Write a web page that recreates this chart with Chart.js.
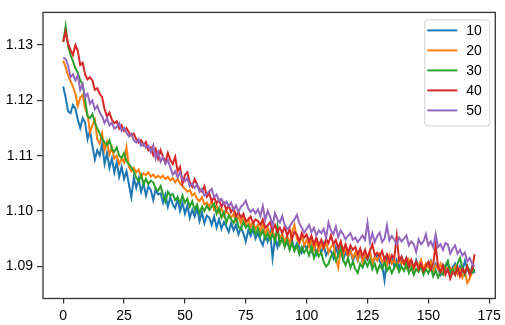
<!DOCTYPE html>
<html>
<head>
<meta charset="utf-8">
<script src="https://cdn.jsdelivr.net/npm/chart.js@4.4.1/dist/chart.umd.min.js"></script>
<style>
    html, body { margin: 0; padding: 0; background: #fff; }
    #wrap { width: 505px; height: 325px; }
</style>
</head>
<body>
<div id="wrap"><canvas id="grafico"></canvas></div>
<script>
// ==========================================
// Curvas 10 / 20 / 30 / 40 / 50
// ==========================================

const rotulos = ["10", "20", "30", "40", "50"];
const cores = ["#1f77b4", "#ff7f0e", "#2ca02c", "#d62728", "#9467bd"];

const xTicks = [0, 25, 50, 75, 100, 125, 150, 175];
const yTicks = [1.09, 1.10, 1.11, 1.12, 1.13];

const serie10 = [
    1.1225, 1.1205, 1.1180, 1.1177, 1.1192, 1.1185, 1.1165, 1.1150, 1.1168, 1.1160,
    1.1130, 1.1145, 1.1118, 1.1093, 1.1110, 1.1100, 1.1122, 1.1085, 1.1105, 1.1078,
    1.1095, 1.1070, 1.1088, 1.1062, 1.1080, 1.1058, 1.1072, 1.1048, 1.1025, 1.1060,
    1.1042, 1.1058, 1.1035, 1.1050, 1.1028, 1.1045, 1.1038, 1.1020, 1.1040, 1.1030,
    1.1032, 1.1015, 1.1030, 1.1008, 1.1025, 1.1012, 1.1005, 1.1022, 1.1000, 1.1015,
    1.0995, 1.1010, 1.0988, 1.1002, 1.0990, 1.1005, 1.0982, 1.0998, 1.0978, 1.0992,
    1.0988, 1.0975, 1.0990, 1.0970, 1.0985, 1.0968, 1.0980, 1.0972, 1.0962, 1.0978,
    1.0965, 1.0975, 1.0958, 1.0970, 1.0960, 1.0945, 1.0965, 1.0955, 1.0968, 1.0950,
    1.0960, 1.0948, 1.0938, 1.0958, 1.0945, 1.0962, 1.0915, 1.0952, 1.0935, 1.0955,
    1.0950, 1.0938, 1.0945, 1.0932, 1.0948, 1.0930, 1.0942, 1.0935, 1.0925, 1.0940,
    1.0932, 1.0945, 1.0928, 1.0938, 1.0922, 1.0935, 1.0925, 1.0940, 1.0920, 1.0930,
    1.0928, 1.0915, 1.0935, 1.0920, 1.0930, 1.0912, 1.0925, 1.0918, 1.0930, 1.0910,
    1.0922, 1.0910, 1.0925, 1.0908, 1.0918, 1.0912, 1.0925, 1.0905, 1.0915, 1.0920,
    1.0910, 1.0902, 1.0875, 1.0915, 1.0905, 1.0918, 1.0900, 1.0912, 1.0898, 1.0910,
    1.0905, 1.0915, 1.0898, 1.0908, 1.0895, 1.0912, 1.0900, 1.0908, 1.0890, 1.0905,
    1.0900, 1.0910, 1.0892, 1.0905, 1.0895, 1.0885, 1.0902, 1.0895, 1.0908, 1.0890,
    1.0898, 1.0905, 1.0888, 1.0900, 1.0892, 1.0910, 1.0895, 1.0885, 1.0900, 1.0888
];

const serie20 = [
    1.1272, 1.1260, 1.1245, 1.1235, 1.1225, 1.1212, 1.1190, 1.1205, 1.1210, 1.1185,
    1.1175, 1.1142, 1.1155, 1.1165, 1.1130, 1.1122, 1.1140, 1.1110, 1.1125, 1.1102,
    1.1115, 1.1095, 1.1100, 1.1085, 1.1095, 1.1088, 1.1115, 1.1080, 1.1072, 1.1078,
    1.1070, 1.1075, 1.1062, 1.1068, 1.1065, 1.1070, 1.1062, 1.1066, 1.1060, 1.1064,
    1.1060, 1.1064, 1.1058, 1.1062, 1.1055, 1.1060, 1.1052, 1.1058, 1.1050, 1.1045,
    1.1040, 1.1035, 1.1038, 1.1028, 1.1032, 1.1022, 1.1018, 1.1025, 1.1012, 1.1015,
    1.1008, 1.1018, 1.1002, 1.1010, 1.0998, 1.1005, 1.0992, 1.1000, 1.0995, 1.0988,
    1.0995, 1.0982, 1.0990, 1.0978, 1.0992, 1.0975, 1.0985, 1.0972, 1.0980, 1.0968,
    1.0975, 1.0962, 1.0978, 1.0958, 1.0970, 1.0955, 1.0965, 1.0948, 1.0960, 1.0952,
    1.0958, 1.0945, 1.0955, 1.0940, 1.0962, 1.0975, 1.0950, 1.0942, 1.0955, 1.0938,
    1.0948, 1.0935, 1.0950, 1.0930, 1.0945, 1.0928, 1.0940, 1.0932, 1.0945, 1.0925,
    1.0935, 1.0940, 1.0915, 1.0898, 1.0930, 1.0920, 1.0935, 1.0918, 1.0928, 1.0915,
    1.0925, 1.0912, 1.0930, 1.0908, 1.0920, 1.0915, 1.0928, 1.0905, 1.0918, 1.0910,
    1.0922, 1.0908, 1.0915, 1.0902, 1.0920, 1.0905, 1.0912, 1.0900, 1.0915, 1.0905,
    1.0910, 1.0898, 1.0912, 1.0902, 1.0895, 1.0908, 1.0900, 1.0912, 1.0895, 1.0905,
    1.0898, 1.0908, 1.0892, 1.0902, 1.0895, 1.0905, 1.0888, 1.0900, 1.0892, 1.0898,
    1.0890, 1.0900, 1.0885, 1.0895, 1.0880, 1.0892, 1.0870, 1.0878, 1.0890, 1.0895
];

const serie30 = [
    1.1306, 1.1334, 1.1298, 1.1282, 1.1271, 1.1258, 1.1250, 1.1236, 1.1229, 1.1201,
    1.1171, 1.1168, 1.1175, 1.1160, 1.1149, 1.1140, 1.1130, 1.1124, 1.1119, 1.1128,
    1.1112, 1.1107, 1.1115, 1.1100, 1.1096, 1.1105, 1.1090, 1.1085, 1.1079, 1.1072,
    1.1060, 1.1054, 1.1065, 1.1048, 1.1058, 1.1049, 1.1055, 1.1052, 1.1040, 1.1037,
    1.1045, 1.1030, 1.1017, 1.1035, 1.1028, 1.1031, 1.1020, 1.1025, 1.1014, 1.1028,
    1.1015, 1.1022, 1.1008, 1.1018, 1.1002, 1.1012, 1.0996, 1.1008, 1.1000, 1.1010,
    1.1002, 1.1008, 1.1014, 1.0995, 1.1005, 1.0988, 1.0998, 1.0979, 1.0992, 1.0985,
    1.0978, 1.0990, 1.0972, 1.0967, 1.0980, 1.0970, 1.0975, 1.0962, 1.0972, 1.0958,
    1.0968, 1.0955, 1.0965, 1.0950, 1.0960, 1.0948, 1.0958, 1.0945, 1.0974, 1.0940,
    1.0950, 1.0935, 1.0948, 1.0930, 1.0942, 1.0928, 1.0938, 1.0922, 1.0935, 1.0925,
    1.0932, 1.0920, 1.0935, 1.0915, 1.0928, 1.0918, 1.0925, 1.0908, 1.0900, 1.0905,
    1.0918, 1.0925, 1.0910, 1.0920, 1.0935, 1.0912, 1.0902, 1.0915, 1.0898, 1.0908,
    1.0895, 1.0888, 1.0905, 1.0898, 1.0910, 1.0900, 1.0912, 1.0895, 1.0905, 1.0890,
    1.0902, 1.0895, 1.0908, 1.0892, 1.0900, 1.0888, 1.0898, 1.0905, 1.0890, 1.0900,
    1.0892, 1.0905, 1.0888, 1.0898, 1.0885, 1.0895, 1.0890, 1.0900, 1.0885, 1.0895,
    1.0888, 1.0898, 1.0882, 1.0893, 1.0880, 1.0890, 1.0885, 1.0902, 1.0910, 1.0888,
    1.0895, 1.0885, 1.0905, 1.0915, 1.0898, 1.0885, 1.0900, 1.0892, 1.0888, 1.0895
];

const serie40 = [
    1.1306, 1.1324, 1.1303, 1.1291, 1.1282, 1.1300, 1.1289, 1.1264, 1.1268, 1.1247,
    1.1238, 1.1242, 1.1236, 1.1219, 1.1222, 1.1212, 1.1206, 1.1184, 1.1171, 1.1178,
    1.1165, 1.1159, 1.1162, 1.1149, 1.1155, 1.1145, 1.1150, 1.1142, 1.1136, 1.1140,
    1.1130, 1.1124, 1.1128, 1.1119, 1.1125, 1.1110, 1.1115, 1.1101, 1.1112, 1.1095,
    1.1110, 1.1098, 1.1088, 1.1105, 1.1092, 1.1085, 1.1098, 1.1072, 1.1080, 1.1049,
    1.1065, 1.1070, 1.1052, 1.1044, 1.1058, 1.1048, 1.1040, 1.1035, 1.1045, 1.1026,
    1.1032, 1.1018, 1.1025, 1.1014, 1.1020, 1.1008, 1.1015, 1.1002, 1.1010, 1.0998,
    1.1005, 1.0991, 1.0998, 1.0988, 1.0995, 1.0982, 1.0984, 1.0990, 1.0978, 1.0985,
    1.0982, 1.0975, 1.0985, 1.0970, 1.0974, 1.0980, 1.0965, 1.0975, 1.0962, 1.0970,
    1.0960, 1.0972, 1.0955, 1.0968, 1.0950, 1.0962, 1.0958, 1.0945, 1.0960, 1.0952,
    1.0958, 1.0945, 1.0955, 1.0940, 1.0952, 1.0938, 1.0948, 1.0935, 1.0950, 1.0942,
    1.0956, 1.0940, 1.0948, 1.0932, 1.0945, 1.0928, 1.0940, 1.0925, 1.0938, 1.0930,
    1.0935, 1.0922, 1.0932, 1.0918, 1.0930, 1.0915, 1.0928, 1.0940, 1.0920, 1.0925,
    1.0918, 1.0928, 1.0912, 1.0922, 1.0908, 1.0920, 1.0915, 1.0955, 1.0910, 1.0918,
    1.0905, 1.0915, 1.0900, 1.0912, 1.0898, 1.0908, 1.0895, 1.0905, 1.0892, 1.0900,
    1.0908, 1.0895, 1.0905, 1.0938, 1.0900, 1.0890, 1.0902, 1.0885, 1.0895, 1.0878,
    1.0890, 1.0885, 1.0898, 1.0882, 1.0895, 1.0888, 1.0900, 1.0885, 1.0895, 1.0922
];

const serie50 = [
    1.1277, 1.1275, 1.1263, 1.1242, 1.1247, 1.1236, 1.1245, 1.1219, 1.1229, 1.1206,
    1.1212, 1.1194, 1.1200, 1.1184, 1.1190, 1.1178, 1.1171, 1.1159, 1.1168, 1.1155,
    1.1160, 1.1149, 1.1152, 1.1159, 1.1145, 1.1150, 1.1142, 1.1135, 1.1140, 1.1128,
    1.1124, 1.1130, 1.1118, 1.1122, 1.1114, 1.1118, 1.1107, 1.1119, 1.1095, 1.1107,
    1.1089, 1.1098, 1.1085, 1.1092, 1.1079, 1.1066, 1.1072, 1.1061, 1.1070, 1.1058,
    1.1054, 1.1060, 1.1045, 1.1050, 1.1042, 1.1048, 1.1035, 1.1040, 1.1028, 1.1031,
    1.1036, 1.1040, 1.1025, 1.1030, 1.1018, 1.1022, 1.1012, 1.1017, 1.1009, 1.1015,
    1.1002, 1.1010, 1.0998, 1.1008, 1.1012, 1.1019, 1.1005, 1.0998, 1.1003, 1.0996,
    1.1003, 1.0991, 1.1009, 1.0984, 1.1000, 1.0990, 1.0974, 1.0996, 1.0985, 1.0979,
    1.0991, 1.0975, 1.0967, 1.0972, 1.0979, 1.0985, 1.0993, 1.0978, 1.0970, 1.0961,
    1.0968, 1.0975, 1.0962, 1.0970, 1.0956, 1.0965, 1.0960, 1.0968, 1.0952, 1.0979,
    1.0965, 1.0958, 1.0972, 1.0953, 1.0965, 1.0958, 1.0949, 1.0955, 1.0960, 1.0948,
    1.0952, 1.0944, 1.0950, 1.0956, 1.0948, 1.0979, 1.0944, 1.0960, 1.0944, 1.0955,
    1.0961, 1.0944, 1.0950, 1.0974, 1.0947, 1.0955, 1.0948, 1.0940, 1.0952, 1.0945,
    1.0950, 1.0956, 1.0938, 1.0945, 1.0940, 1.0926, 1.0949, 1.0940, 1.0945, 1.0958,
    1.0938, 1.0945, 1.0935, 1.0958, 1.0935, 1.0940, 1.0930, 1.0942, 1.0940, 1.0923,
    1.0932, 1.0938, 1.0923, 1.0930, 1.0920, 1.0925, 1.0909, 1.0915, 1.0905, 1.0900
];

const series = [serie10, serie20, serie30, serie40, serie50];

const fonteEixo = { family: "'Liberation Sans', Arial, sans-serif", size: 14 };
const corEixo = "#333";

// moldura completa (os quatro lados)
const moldura = {
    id: "moldura",
    afterDraw(chart) {
        const { ctx, chartArea: a } = chart;
        ctx.save();
        ctx.strokeStyle = corEixo;
        ctx.lineWidth = 1.3;
        ctx.strokeRect(a.left, a.top, a.right - a.left, a.bottom - a.top);
        ctx.restore();
    }
};

// legenda dentro do gráfico, canto superior direito
const legendaInterna = {
    id: "legendaInterna",
    afterDraw(chart) {
        const { ctx, chartArea: a } = chart;
        const x0 = a.right - 71, y0 = a.top + 7, w = 65, h = 106;
        ctx.save();
        ctx.fillStyle = "rgba(255,255,255,0.85)";
        ctx.strokeStyle = "#d0d0d0";
        ctx.lineWidth = 1;
        ctx.beginPath();
        ctx.roundRect(x0 + 0.5, y0 + 0.5, w, h, 3);
        ctx.fill();
        ctx.stroke();
        ctx.font = "14px 'Liberation Sans', Arial, sans-serif";
        ctx.textBaseline = "middle";
        chart.data.datasets.forEach((ds, i) => {
            const y = y0 + 11 + i * 20;
            ctx.strokeStyle = ds.borderColor;
            ctx.lineWidth = 2;
            ctx.beginPath();
            ctx.moveTo(x0 + 3, y);
            ctx.lineTo(x0 + 33, y);
            ctx.stroke();
            ctx.fillStyle = "#000";
            ctx.fillText(ds.label, x0 + 42, y + 1);
        });
        ctx.restore();
    }
};

new Chart(document.getElementById("grafico"), {
    type: "line",
    data: {
        datasets: series.map((s, i) => ({
            label: rotulos[i],
            data: s.map((v, k) => ({ x: k, y: v })),
            borderColor: cores[i],
            borderWidth: 2,
            pointRadius: 0,
            tension: 0,
            fill: false,
            order: series.length - i
        }))
    },
    options: {
        responsive: true,
        maintainAspectRatio: false,
        animation: false,
        events: [],
        layout: { padding: { top: 3, right: 9, left: 0, bottom: 0 } },
        plugins: { legend: { display: false }, tooltip: { enabled: false } },
        scales: {
            x: {
                type: "linear",
                min: -8.3,
                max: 177.5,
                afterBuildTicks: (s) => { s.ticks = xTicks.map(v => ({ value: v })); },
                afterFit: (s) => { s.height = 26.5; },
                border: { display: false },
                grid: { drawOnChartArea: false, drawTicks: true, tickLength: 5, color: corEixo, lineWidth: 1.2 },
                ticks: { color: "#000", font: fonteEixo, padding: 4, maxRotation: 0 }
            },
            y: {
                min: 1.0842,
                max: 1.1359,
                afterBuildTicks: (s) => { s.ticks = yTicks.map(v => ({ value: v })); },
                afterFit: (s) => { s.width = 43; },
                border: { display: false },
                grid: { drawOnChartArea: false, drawTicks: true, tickLength: 6, color: corEixo, lineWidth: 1.2 },
                ticks: { color: "#000", font: fonteEixo, padding: 4, callback: (v) => v.toFixed(2) }
            }
        }
    },
    plugins: [moldura, legendaInterna]
});
</script>
</body>
</html>
